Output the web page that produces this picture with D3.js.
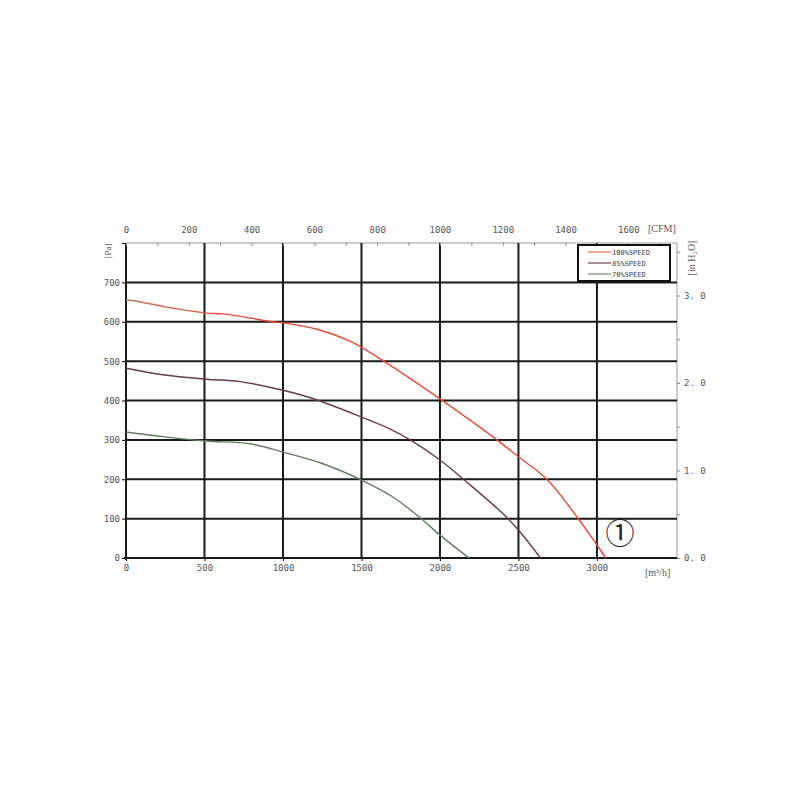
<!DOCTYPE html>
<html>
<head>
<meta charset="utf-8">
<script src="https://cdn.jsdelivr.net/npm/d3@7"></script>
<style>
  body { margin: 0; background: #fff; }
  svg text { font-family: "DejaVu Sans Mono", monospace; fill: #555; }
</style>
</head>
<body>
<svg id="chart" width="800" height="800"></svg>
<script>
// airflow [m3/h] vs static pressure [Pa]
const speed100 = [
  [0, 656], [70, 652], [260, 637], [515, 622], [620, 620], [917, 601], [1000, 597],
  [1217, 581], [1427, 551], [1500, 535], [1650, 498], [2000, 404], [2363, 300],
  [2500, 257], [2681, 200], [2879, 101], [3000, 33], [3057, 0]
];
const speed85 = [
  [0, 482], [260, 464], [515, 454], [726, 448], [1000, 426], [1190, 405],
  [1500, 358], [1680, 328], [1810, 300], [2000, 249], [2170, 193], [2400, 113],
  [2500, 71], [2640, 0]
];
const speed70 = [
  [0, 320], [260, 307], [515, 297], [790, 290], [1000, 269], [1250, 240],
  [1500, 198], [1700, 155], [1892, 96], [2000, 58], [2185, 0]
];
const seriesNames = ["100%SPEED", "85%SPEED", "70%SPEED"];
const seriesColors = ["url(#redGrad)", "#6b3a4c", "#5f7d5f"];
const legendColors = ["#e8764a", "#7a3a55", "#6e9060"];

const paTicks = [0, 100, 200, 300, 400, 500, 600, 700];
const flowTicks = [0, 500, 1000, 1500, 2000, 2500, 3000];
const cfmTicks = [0, 200, 400, 600, 800, 1000, 1200, 1400, 1600];
const inchTicks = [0, 0.5, 1, 1.5, 2, 2.5, 3, 3.5];

const plotLeft = 126, plotRight = 677, plotTop = 243, plotBottom = 558;

const svg = d3.select("#chart");

const x = d3.scaleLinear().domain([0, 3510]).range([plotLeft, plotRight]);
const y = d3.scaleLinear().domain([0, 800]).range([plotBottom, plotTop]);
const xCfm = d3.scaleLinear().domain([0, 1755]).range([plotLeft, plotRight]);
const yIn = d3.scaleLinear().domain([0, 3.6]).range([plotBottom, plotBottom - 3.6 * 87.5]);

const defs = svg.append("defs");
const grad = defs.append("linearGradient")
  .attr("id", "redGrad")
  .attr("gradientUnits", "userSpaceOnUse")
  .attr("x1", x(0)).attr("x2", x(3100)).attr("y1", 0).attr("y2", 0);
grad.append("stop").attr("offset", "0%").attr("stop-color", "#b8805a");
grad.append("stop").attr("offset", "10%").attr("stop-color", "#d9603e");
grad.append("stop").attr("offset", "20%").attr("stop-color", "#ea4a34");
grad.append("stop").attr("offset", "100%").attr("stop-color", "#e8483a");

// frame: top and right thin grey lines
svg.append("line")
  .attr("x1", plotLeft).attr("x2", plotRight).attr("y1", plotTop).attr("y2", plotTop)
  .attr("stroke", "#999").attr("stroke-width", 1);
svg.append("line")
  .attr("x1", plotRight).attr("x2", plotRight).attr("y1", plotTop).attr("y2", plotBottom)
  .attr("stroke", "#999").attr("stroke-width", 1);

// grid
svg.append("g")
  .selectAll("line")
  .data(paTicks.slice(1))
  .enter()
  .append("line")
  .attr("x1", plotLeft).attr("x2", plotRight)
  .attr("y1", d => y(d)).attr("y2", d => y(d))
  .attr("stroke", "#1a1a1a").attr("stroke-width", 2);

svg.append("g")
  .selectAll("line")
  .data(flowTicks.slice(1))
  .enter()
  .append("line")
  .attr("x1", d => x(d)).attr("x2", d => x(d))
  .attr("y1", plotTop).attr("y2", plotBottom)
  .attr("stroke", "#1a1a1a").attr("stroke-width", 2);

// bottom axis
const xAxis = d3.axisBottom(x).tickValues(flowTicks).tickFormat(d3.format("d"))
  .tickSize(3).tickPadding(4);
const gx = svg.append("g")
  .attr("transform", "translate(0," + plotBottom + ")")
  .call(xAxis);
gx.select(".domain").remove();
gx.selectAll("text").style("font-size", "9px").style("fill", "#555");
svg.append("line")
  .attr("x1", plotLeft - 2).attr("x2", plotRight).attr("y1", plotBottom).attr("y2", plotBottom)
  .attr("stroke", "#1a1a1a").attr("stroke-width", 2);

// left axis
const yAxis = d3.axisLeft(y).tickValues(paTicks.concat([800]))
  .tickFormat(d => d === 800 ? "" : d).tickSize(4).tickPadding(2);
const gy = svg.append("g")
  .attr("transform", "translate(" + plotLeft + ",0)")
  .call(yAxis);
gy.select(".domain").remove();
gy.selectAll("text").style("font-size", "9px").style("fill", "#555");
svg.append("line")
  .attr("x1", plotLeft).attr("x2", plotLeft).attr("y1", plotTop).attr("y2", plotBottom + 2)
  .attr("stroke", "#1a1a1a").attr("stroke-width", 2);

// top axis (CFM)
const xTop = d3.axisTop(xCfm).ticks(17).tickSize(3).tickPadding(10)
  .tickFormat(d => cfmTicks.includes(d) ? d : "");
const gt = svg.append("g")
  .attr("transform", "translate(0," + (plotTop + 3) + ")")
  .call(xTop);
gt.select(".domain").remove();
gt.selectAll("line").attr("stroke", "#888");
gt.selectAll("text").style("font-size", "9px").style("fill", "#555");

// right axis (in H2O)
const yRight = d3.axisRight(yIn).tickValues(inchTicks)
  .tickSize(3).tickPadding(4)
  .tickFormat(d => Number.isInteger(d) ? d.toFixed(1).replace(".", ". ") : "");
const gr = svg.append("g")
  .attr("transform", "translate(" + plotRight + ",0)")
  .call(yRight);
gr.select(".domain").remove();
gr.selectAll("line").attr("stroke", "#888");
gr.selectAll("text").style("font-size", "9px").style("fill", "#555");

// unit labels
svg.append("text")
  .attr("transform", "translate(111,251) rotate(-90)")
  .attr("text-anchor", "middle")
  .style("font-size", "9px").style("font-family", "Liberation Serif, serif")
  .text("[Pa]");
svg.append("text")
  .attr("transform", "translate(695,258) rotate(-90)")
  .attr("text-anchor", "middle")
  .style("font-size", "10px").style("font-family", "Liberation Serif, serif")
  .text("[in H₂O]");
svg.append("text")
  .attr("x", 648).attr("y", 232)
  .style("font-size", "10px").style("font-family", "Liberation Serif, serif")
  .text("[CFM]");
svg.append("text")
  .attr("x", 645).attr("y", 576)
  .style("font-size", "10px").style("font-family", "Liberation Serif, serif")
  .text("[m³/h]");

// curves
const line = d3.line()
  .x(d => x(d[0]))
  .y(d => y(d[1]))
  .curve(d3.curveCatmullRom.alpha(0.5));

svg.append("g")
  .selectAll("path")
  .data([speed100, speed85, speed70])
  .enter()
  .append("path")
  .attr("d", line)
  .attr("fill", "none")
  .attr("stroke", (d, i) => seriesColors[i])
  .attr("stroke-width", 1.4);

// circled marker
svg.append("text")
  .attr("x", 620).attr("y", 544)
  .attr("text-anchor", "middle")
  .style("font-size", "29px").style("font-family", "Noto Sans CJK JP, sans-serif")
  .style("fill", "#222")
  .text("①");

// legend
const lg = svg.append("g").attr("transform", "translate(578,245)");
lg.append("rect")
  .attr("width", 92).attr("height", 36)
  .attr("fill", "#fff").attr("stroke", "#111").attr("stroke-width", 2);
const items = lg.selectAll(".item")
  .data(seriesNames)
  .enter()
  .append("g")
  .attr("transform", (d, i) => "translate(0," + (7 + i * 11) + ")");
items.append("line")
  .attr("x1", 10).attr("x2", 33)
  .attr("stroke", (d, i) => legendColors[i]).attr("stroke-width", 1.2);
items.append("text")
  .attr("x", 34).attr("y", 3)
  .style("font-size", "7px").style("fill", "#444")
  .text(d => d);
</script>
</body>
</html>
